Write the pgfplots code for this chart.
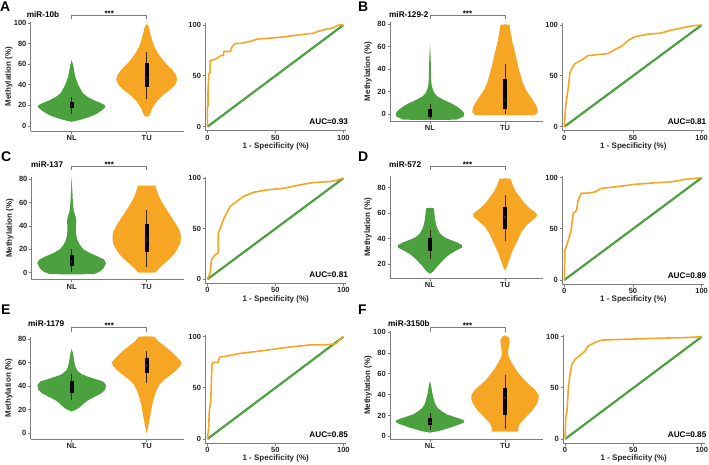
\documentclass[border=0pt]{standalone}
\usepackage{fontspec}
\setmainfont{Liberation Sans}
\usepackage{pgfplots}
\pgfplotsset{compat=1.18}
\usepackage{pgfplotstable}

\definecolor{vgreen}{RGB}{76,161,63}
\definecolor{vorange}{RGB}{246,166,35}
\definecolor{axgray}{RGB}{125,125,125}

\newcommand{\tickfont}{\fontsize{7.5}{8}\selectfont\bfseries}
\newcommand{\labfont}{\fontsize{8}{9}\selectfont\bfseries}
\newcommand{\mirfont}{\fontsize{8.2}{9}\selectfont\bfseries}
\newcommand{\letfont}{\fontsize{14}{15}\selectfont\bfseries}

\pgfplotsset{
  base/.style={scale only axis, axis lines=left,
    axis line style={draw=axgray,line width=0.8pt,-},
    tick style={draw=axgray,line width=0.8pt}, tick align=outside, major tick length=2.5pt,
    tick label style={font=\tickfont, text=black!85, inner sep=1.6pt},
    /pgf/number format/assume math mode=true, clip=false,
    label style={font=\labfont, text=black!85}},
  violin/.style={base, xtick={1,2}, xticklabels={NL,TU}, xmax=2.5,
    ylabel={Methylation (\%)},
    ylabel style={at={([xshift=-22pt]axis description cs:0,0.5)}, anchor=center}},
  roc/.style={base, xmin=-1.5, xmax=102, ymin=-4, ymax=101.5,
    xtick={0,50,100}, ytick={0,50,100},
    xlabel={1 - Specificity (\%)},
    xlabel style={at={([yshift=-15.8pt]axis description cs:0.5,0)}, anchor=center}},
}

% violin half-width profiles: y = methylation, w = half width (category units)
\pgfplotstableread{
y w
4 0
6 0.12
9 0.25
12 0.34
15 0.40
18 0.45
20 0.45
22 0.40
25 0.30
28 0.22
32 0.15
36 0.12
40 0.09
44 0.07
48 0.05
52 0.04
56 0.03
60 0.02
64 0
}\NLa
\pgfplotstableread{
y w
9 0
9.5 0.03
12 0.05
16 0.07
20 0.10
25 0.15
30 0.22
35 0.31
40 0.38
45 0.41
50 0.39
55 0.34
60 0.27
65 0.21
70 0.16
75 0.12
80 0.09
85 0.07
90 0.05
95 0.035
98 0.02
99 0
}\TUa
\pgfplotstableread{
y w
-5 0
-4.8 0.36
-2 0.45
1 0.46
4 0.42
7 0.36
10 0.28
13 0.18
16 0.10
19 0.06
22 0.04
26 0.025
30 0.02
40 0.015
50 0.012
62 0
}\NLb
\pgfplotstableread{
y w
-1 0
-0.8 0.40
2 0.44
6 0.43
10 0.40
14 0.36
18 0.32
22 0.28
28 0.24
35 0.21
42 0.18
50 0.155
57 0.13
65 0.10
72 0.08
79.5 0.065
80 0
}\TUb
\pgfplotstableread{
y w
-1.5 0
-1.2 0.30
1 0.38
4 0.43
8 0.46
11 0.44
14 0.35
17 0.24
20 0.16
24 0.11
28 0.08
32 0.065
36 0.06
40 0.06
44 0.065
48 0.055
52 0.035
56 0.025
62 0.018
70 0.012
81 0
}\NLc
\pgfplotstableread{
y w
0 0
0.2 0.12
4 0.17
8 0.24
12 0.31
16 0.37
20 0.41
25 0.45
30 0.46
35 0.45
40 0.41
45 0.36
50 0.31
55 0.26
60 0.21
65 0.17
70 0.14
74.5 0.12
74.7 0
}\TUc
\pgfplotstableread{
y w
12.5 0
14 0.04
16 0.07
19 0.11
22 0.16
25 0.21
28 0.27
31 0.36
33 0.43
35 0.43
37 0.37
39 0.28
41 0.20
44 0.14
47 0.11
50 0.09
54 0.075
58 0.065
62 0.06
64 0.05
64.2 0
}\NLd
\pgfplotstableread{
y w
14.5 0
17 0.02
21 0.045
25 0.07
30 0.10
35 0.14
40 0.18
45 0.22
50 0.28
54 0.36
57 0.42
59 0.43
61 0.40
64 0.33
68 0.26
72 0.21
76 0.16
80 0.12
84 0.095
87 0.075
87.3 0
}\TUd
\pgfplotstableread{
y w
18.5 0
20 0.06
22 0.11
25 0.16
28 0.22
31 0.31
34 0.40
37 0.45
41 0.46
44 0.42
46 0.32
48 0.22
50 0.14
53 0.08
56 0.055
60 0.04
64 0.03
68 0.02
71.5 0
}\NLe
\pgfplotstableread{
y w
0 0
3 0.015
8 0.03
13 0.045
18 0.06
24 0.075
30 0.10
36 0.13
41 0.17
45 0.23
49 0.31
53 0.39
57 0.45
60 0.47
63 0.43
67 0.37
71 0.30
75 0.22
78 0.16
81 0.12
82 0.11
82.2 0
}\TUe
\pgfplotstableread{
y w
3.5 0
5 0.12
8 0.26
11 0.38
13 0.45
15 0.46
17 0.40
19 0.31
21 0.23
24 0.16
27 0.11
30 0.08
34 0.06
38 0.045
43 0.03
48 0.02
53.5 0
}\NLf
\pgfplotstableread{
y w
4.5 0
4.6 0.18
8 0.18
12 0.20
16 0.25
20 0.30
25 0.37
30 0.42
35 0.45
40 0.45
45 0.40
50 0.32
55 0.25
60 0.19
65 0.14
70 0.10
75 0.06
79 0.045
84 0.05
88 0.06
92 0.065
95 0.05
96.5 0.02
97 0
}\TUf

\newcommand{\violin}[3]{%
  \addplot[fill=#3, draw=none] table[x expr={#1-0.003+\thisrow{w}}, y=y] {#2};
  \addplot[fill=#3, draw=none] table[x expr={#1+0.003-\thisrow{w}}, y=y] {#2};}
% box: center, lower whisker, q1, median, q3, upper whisker
\newcommand{\vbx}[6]{%
  \addplot[black!70!brown, line width=0.5pt] coordinates {(#1,#2) (#1,#6)};
  \addplot[fill=black, draw=none] table[row sep=\\, x expr={#1+\thisrow{dx}}, y=y]
     {dx y\\ -0.028 #3\\ 0.028 #3\\ 0.028 #5\\ -0.028 #5\\};
  \addplot[only marks, mark=*, mark size=0.85pt, mark options={fill=white, draw=none}] coordinates {(#1,#4)};}
\newcommand{\roc}[6]{%
  \begin{axis}[roc, at={(#1pt,#2pt)}, anchor=south west, width=#3pt, height=#4pt]
  \addplot[vgreen, line width=2.2pt] coordinates {(0,0) (100,100)};
  \addplot[vorange, line width=1.6pt, line join=round] coordinates {#5};
  \node[anchor=south east, font=\mirfont, inner sep=0pt] at (axis cs:103.5,1.5) {AUC=#6};
  \end{axis}}

\begin{document}
\begin{tikzpicture}[x=1pt,y=1pt]
\useasboundingbox (0,0) rectangle (709,464);

% ---------- A ----------
\begin{axis}[violin, at={(30.7pt,332.9pt)}, anchor=south west, width=153.5pt, height=108.9pt,
  xmin=0.453, ymin=-5, ymax=101, ytick={0,20,...,100}]
\violin{1}{\NLa}{vgreen}
\violin{2}{\TUa}{vorange}
\vbx{1}{12}{17}{20}{23}{28}
\vbx{2}{26}{38}{47}{61}{72}
\end{axis}
\roc{205.3}{333.2}{140.8}{107.3}{(0,0) (0,20) (0.5,20) (0.5,35) (1,52) (2,53) (2,65) (5,66) (8,68) (10,70) (12,70) (12,74) (17,74) (18,78) (19,80) (21,82) (25,82) (28,83) (32,84) (36,86) (40,86.5) (50,87.5) (60,89) (65,90) (72,91) (78,92) (82,94) (88,96) (92,97) (95,99) (97,100) (100,100)}{0.93}

% ---------- B ----------
\begin{axis}[violin, at={(390pt,342.95pt)}, anchor=south west, width=152.5pt, height=99pt,
  xmin=0.467, ymin=-6, ymax=82, ytick={0,20,...,80}]
\violin{1}{\NLb}{vgreen}
\violin{2}{\TUb}{vorange}
\vbx{1}{-4}{-2}{-1}{5}{9}
\vbx{2}{0}{4.5}{13}{31}{45}
\end{axis}
\roc{562.2}{333.2}{142.2}{107.3}{(0,0) (1,20) (2,30) (3,39) (4,52) (5.3,57) (7.8,62) (12.6,65.6) (17.5,70) (25,71) (32,72) (37,76) (41.7,79) (46.6,85) (51.5,88.5) (61,91) (70,92) (78,95) (90,98.4) (95,99.5) (100,100)}{0.81}

% ---------- C ----------
\begin{axis}[violin, at={(31.7pt,184.3pt)}, anchor=south west, width=152.5pt, height=102.7pt,
  xmin=0.467, ymin=-6, ymax=82, ytick={0,20,...,80}]
\violin{1}{\NLc}{vgreen}
\violin{2}{\TUc}{vorange}
\vbx{1}{1}{6}{9.5}{15.5}{20}
\vbx{2}{5}{18}{28}{42}{54}
\end{axis}
\roc{205.3}{180.7}{140.8}{106.6}{(0,0) (2,6) (3,19) (5.6,24) (8,26) (8,45.5) (10.5,54) (11.8,59) (14,65) (16.7,72) (21.6,77) (26.5,82) (33.8,86) (43.6,88.4) (56,90) (68,93.4) (78,95.7) (90,96.7) (95,98) (100,100)}{0.81}

% ---------- D ----------
\begin{axis}[violin, at={(390pt,185.7pt)}, anchor=south west, width=152.5pt, height=102.1pt,
  xmin=0.467, ymin=9, ymax=89, ytick={20,40,...,80}]
\violin{1}{\NLd}{vgreen}
\violin{2}{\TUd}{vorange}
\vbx{1}{24}{30}{34}{40.5}{47}
\vbx{2}{38}{48}{57}{65}{74}
\end{axis}
\roc{562.2}{179.9}{142.2}{107.9}{(0,0) (0.5,29) (3,39) (5,49) (6.5,65) (9,68) (10,78) (12.6,85) (17.5,85) (22,86) (27,89.6) (37,91) (51,93.5) (66,95) (78,96) (88,98.4) (100,100)}{0.89}

% ---------- E ----------
\begin{axis}[violin, at={(30.7pt,24.8pt)}, anchor=south west, width=153.5pt, height=102.6pt,
  xmin=0.453, ymin=-5, ymax=82, ytick={0,20,...,80}]
\violin{1}{\NLe}{vgreen}
\violin{2}{\TUe}{vorange}
\vbx{1}{28}{34}{40}{44}{50}
\vbx{2}{43}{51}{57.5}{64}{70}
\end{axis}
\roc{205.3}{20.9}{140.8}{107.9}{(0,0) (1,11) (1.5,28) (2.5,37) (3.4,73) (4.4,75) (8,75) (9,80) (14,81) (24,83.7) (38.7,86) (53,88.6) (60.8,90) (75.5,92) (88,92) (95,93.5) (97.5,97.7) (100,100)}{0.85}

% ---------- F ----------
\begin{axis}[violin, at={(390pt,24.6pt)}, anchor=south west, width=152.5pt, height=108.2pt,
  xmin=0.467, ymin=-3, ymax=101, ytick={0,20,...,100}]
\violin{1}{\NLf}{vgreen}
\violin{2}{\TUf}{vorange}
\vbx{1}{6}{10.5}{13.5}{17.5}{22}
\vbx{2}{7}{20}{37}{46}{59}
\end{axis}
\roc{563}{20.9}{141.5}{107.9}{(0,0) (0.5,21) (1.5,28) (2.4,50) (3.7,63.5) (5,73) (7.3,78) (12,83) (14.6,86) (17,91) (22,94.5) (26.8,96.7) (41.5,97.4) (66,98.4) (90,99.3) (100,100)}{0.85}

% ---------- annotations ----------
\foreach \xo/\yo in {0/0, 358.3/0, 0/151, 358.3/151, 0/312, 358.3/312}{
  \draw[axgray, line width=0.6pt] (71.7+\xo,444.5-\yo) -- (71.7+\xo,449-\yo) -- (146.7+\xo,449-\yo) -- (146.7+\xo,444.5-\yo);
  \node[font=\labfont, anchor=base, inner sep=0pt] at (109.2+\xo,447.2-\yo) {***};
}
\node[font=\mirfont, anchor=west, inner sep=0pt] at (26.7,449) {miR-10b};
\node[font=\mirfont, anchor=west, inner sep=0pt] at (389,449) {miR-129-2};
\node[font=\mirfont, anchor=west, inner sep=0pt] at (31,299) {miR-137};
\node[font=\mirfont, anchor=west, inner sep=0pt] at (389,299) {miR-572};
\node[font=\mirfont, anchor=west, inner sep=0pt] at (28,140) {miR-1179};
\node[font=\mirfont, anchor=west, inner sep=0pt] at (388,140) {miR-3150b};

\node[font=\letfont, anchor=west, inner sep=0pt] at (0,457.3) {A};
\node[font=\letfont, anchor=west, inner sep=0pt] at (358,457.3) {B};
\node[font=\letfont, anchor=west, inner sep=0pt] at (1,307.3) {C};
\node[font=\letfont, anchor=west, inner sep=0pt] at (358,307.3) {D};
\node[font=\letfont, anchor=west, inner sep=0pt] at (1,154) {E};
\node[font=\letfont, anchor=west, inner sep=0pt] at (358,154) {F};
\end{tikzpicture}
\end{document}
